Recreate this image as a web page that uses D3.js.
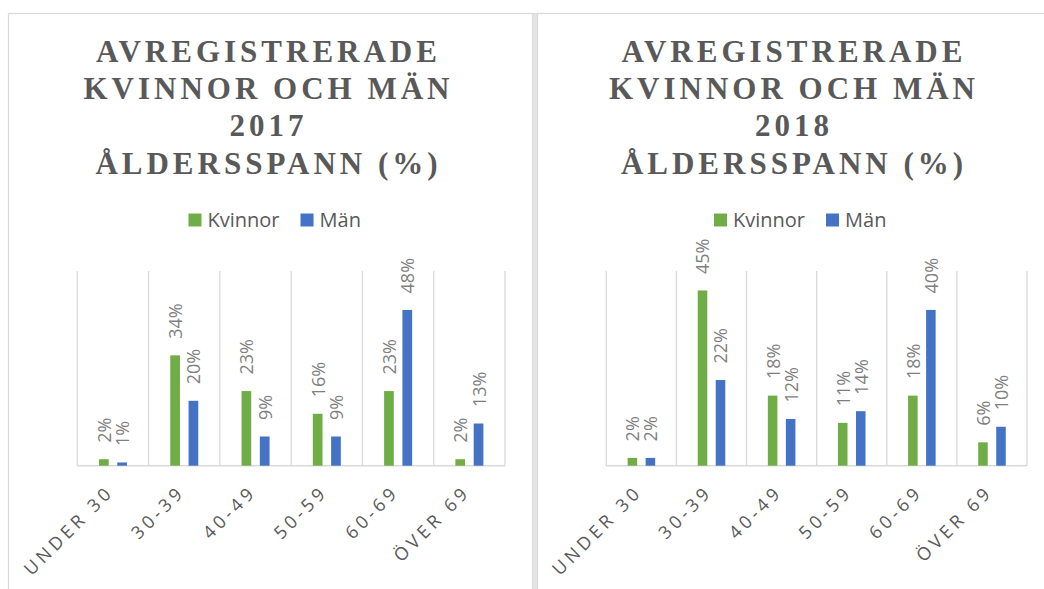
<!DOCTYPE html>
<html><head><meta charset="utf-8">
<script src="https://cdn.jsdelivr.net/npm/d3@7"></script>
<style>body{margin:0;background:#fff;} svg{display:block}</style>
</head><body><svg id="c" width="1044" height="589"></svg>
<script>
const categories = ["UNDER 30", "30-39", "40-49", "50-59", "60-69", "ÖVER 69"];
const series = ["Kvinnor", "Män"];
const kvinnor2017 = [2, 34, 23, 16, 23, 2];
const man2017 = [1, 20, 9, 9, 48, 13];
const kvinnor2018 = [2, 45, 18, 11, 18, 6];
const man2018 = [2, 22, 12, 14, 40, 10];
const yMax2017 = 60;
const yMax2018 = 50;
const title2017 = ["AVREGISTRERADE", "KVINNOR OCH MÄN", "2017", "ÅLDERSSPANN (%)"];
const title2018 = ["AVREGISTRERADE", "KVINNOR OCH MÄN", "2018", "ÅLDERSSPANN (%)"];
const colors = {"Kvinnor": "#70ad47", "Män": "#4472c4"};

const svg = d3.select("#c");
svg.append("rect").attr("width", 1044).attr("height", 589).attr("fill", "#fff");

function chart(x0, x1, title, kv, ma, yMax) {
  const g = svg.append("g");
  g.append("rect").attr("x", x0 + 0.5).attr("y", 13.5).attr("width", x1 - x0 - 1).attr("height", 620)
    .attr("fill", "#fff").attr("stroke", "#d9d9d9").attr("stroke-width", 1.2);
  const cx = (x0 + x1) / 2;
  const ls = 4;
  const t = g.append("text").attr("text-anchor", "middle")
    .attr("font-family", "'Liberation Serif', 'Times New Roman', serif")
    .attr("font-weight", "bold").attr("font-size", 31).attr("letter-spacing", ls + "px")
    .attr("fill", "#595959");
  title.forEach((line, i) => t.append("tspan").attr("x", cx - 4 + ls / 2).attr("y", 62 + i * 37.2).text(line));

  // legend
  const lx = cx - 82, ly = 220;
  const lg = g.append("g");
  let xpos = lx;
  series.forEach(s => {
    lg.append("rect").attr("x", xpos).attr("y", ly - 6.5).attr("width", 13).attr("height", 13).attr("fill", colors[s]);
    const tx = lg.append("text").attr("x", xpos + 19).attr("y", ly + 7)
      .attr("font-family", "'Open Sans', sans-serif").attr("font-size", 20).attr("fill", "#595959").text(s);
    xpos = xpos + 19 + tx.node().getComputedTextLength() + 21;
  });

  const px0 = x0 + 69.3, px1 = x1 - 28;
  const yTop = 271, yBase = 465.7;
  const x = d3.scaleBand().domain(categories).range([px0, px1]);
  const bw = x.bandwidth();
  const xi = d3.scaleBand().domain(series).range([0.304 * bw, 0.697 * bw]).paddingInner(0.47);
  const y = d3.scaleLinear().domain([0, yMax]).range([yBase, yTop]);

  const bounds = categories.map(c => x(c)).concat([px1]);
  g.selectAll(".grid").data(bounds).enter().append("line")
    .attr("x1", d => d).attr("x2", d => d).attr("y1", yTop).attr("y2", yBase)
    .attr("stroke", "#d9d9d9").attr("stroke-width", 1.3);
  g.append("line").attr("x1", px0).attr("x2", px1).attr("y1", yBase).attr("y2", yBase)
    .attr("stroke", "#d9d9d9").attr("stroke-width", 1.6);

  const rows = [];
  categories.forEach((c, i) => {
    rows.push({c, s: "Kvinnor", v: kv[i]});
    rows.push({c, s: "Män", v: ma[i]});
  });
  g.selectAll(".bar").data(rows).enter().append("rect")
    .attr("x", d => x(d.c) + xi(d.s)).attr("width", xi.bandwidth())
    .attr("y", d => y(d.v)).attr("height", d => y(0) - y(d.v))
    .attr("fill", d => colors[d.s]);
  g.selectAll(".lbl").data(rows).enter().append("text")
    .attr("transform", d => `translate(${x(d.c) + xi(d.s) + xi.bandwidth() / 2 + 0.5},${y(d.v) - 16.5}) rotate(-90)`)
    .attr("dy", "0.36em")
    .attr("font-family", "'Open Sans', sans-serif").attr("font-size", 18).attr("fill", "#7f7f7f")
    .text(d => Math.round(d.v) + "%");

  g.selectAll(".cat").data(categories).enter().append("text")
    .attr("transform", c => `translate(${x(c) + bw / 2 + 2},${493}) rotate(-45)`)
    .attr("text-anchor", "end")
    .attr("font-family", "'Open Sans', sans-serif").attr("font-size", 18).attr("letter-spacing", "4px")
    .attr("fill", "#595959").text(c => c);
}

chart(8, 533, title2017, kvinnor2017, man2017, yMax2017);
chart(537, 1055, title2018, kvinnor2018, man2018, yMax2018);

// divider strip between the two charts
svg.append("rect").attr("x", 532.5).attr("y", 13).attr("width", 4.5).attr("height", 580).attr("fill", "#e4e4e4");
svg.append("line").attr("x1", 8).attr("x2", 1044).attr("y1", 13.5).attr("y2", 13.5).attr("stroke", "#d9d9d9").attr("stroke-width", 1.2);
</script>
</body></html>
